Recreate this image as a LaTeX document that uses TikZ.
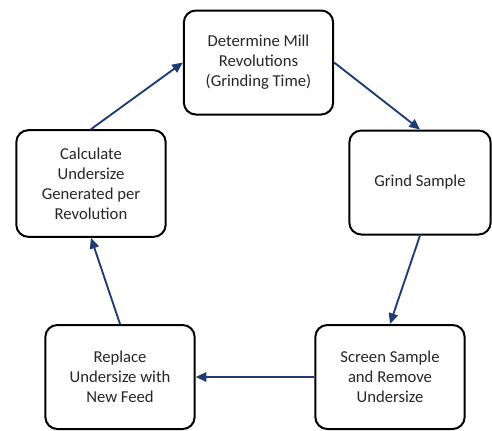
\documentclass[tikz,border=0pt]{standalone}
\usepackage{fontspec}
\setmainfont{Carlito}
\usepackage{tikz}
\usetikzlibrary{arrows.meta, positioning}
\definecolor{cyclenavy}{HTML}{1F3B73}
\definecolor{cycletext}{HTML}{262626}

\begin{document}
\begin{tikzpicture}[
    x=0.75pt, y=-0.75pt,
    stage/.style={rectangle, draw=black, line width=1.5pt, fill=white, rounded corners=9pt, text=cycletext, align=center, minimum width=112pt, minimum height=78pt, font=\fontsize{12.5}{15}\selectfont},
    arrow/.style={-{Triangle[length=8pt, width=7pt]}, line width=1.4pt, cyclenavy}
]
\useasboundingbox (0,0) rectangle (492,430);

% The five stages of the cycle
\node[stage] (mill_rev) at (258.5,62.5) {Determine Mill\\Revolutions\\(Grinding Time)};
\node[stage, minimum width=106pt] (grind) at (420,182.5) {Grind Sample};
\node[stage] (screen) at (390,377) {Screen Sample\\and Remove\\Undersize};
\node[stage] (replace) at (120,377) {Replace\\Undersize with\\New Feed};
\node[stage, minimum height=80pt] (calc) at (91,183.5) {Calculate\\Undersize\\Generated per\\Revolution};

% Arrows round the cycle
\draw[arrow] (mill_rev.east) -- (grind.north);
\draw[arrow] (grind.south) -- (screen.north);
\draw[arrow] (screen.west) -- (replace.east);
\draw[arrow] (replace.north) -- (calc.south);
\draw[arrow] (calc.north) -- (mill_rev.west);

\end{tikzpicture}
\end{document}
